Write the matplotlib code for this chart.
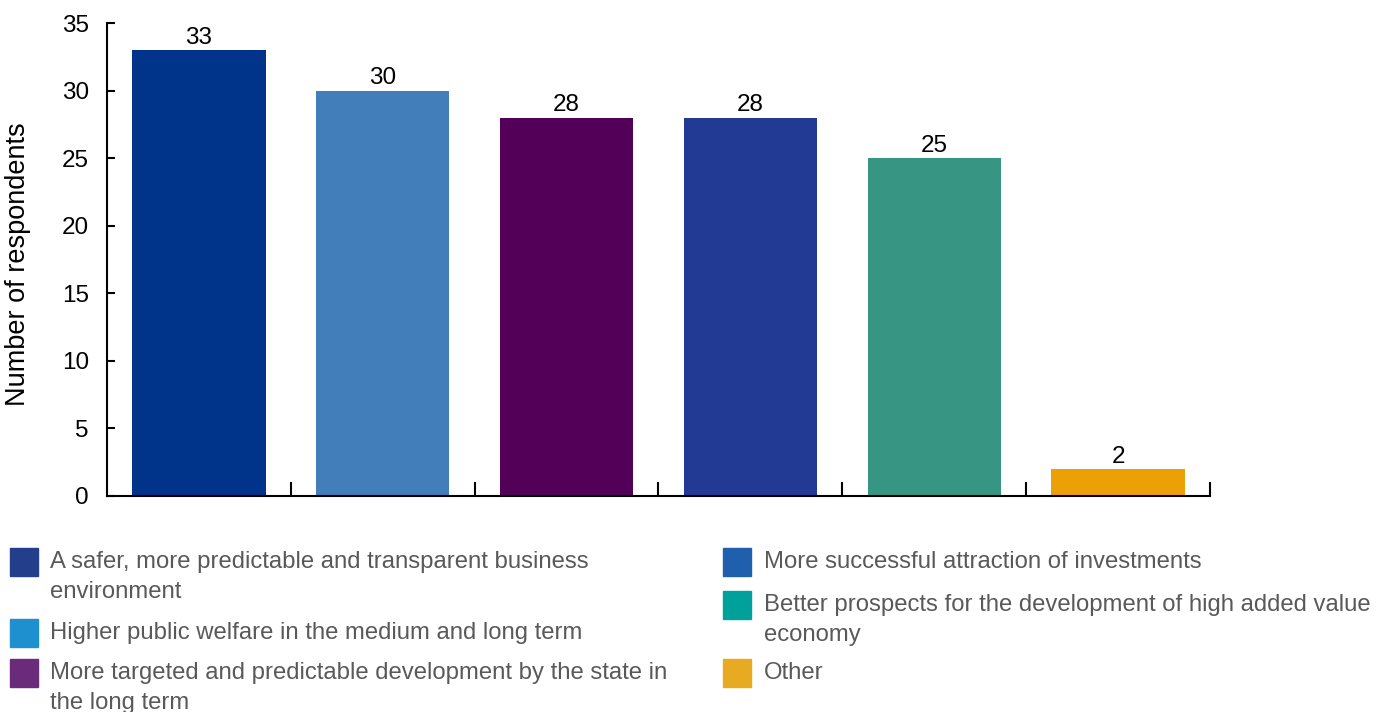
import matplotlib.pyplot as plt
from matplotlib.patches import Rectangle

plt.rcParams['font.family'] = ['Liberation Sans', 'DejaVu Sans']

# survey answers and counts
labels = [
    'A safer, more predictable and transparent business\nenvironment',
    'Higher public welfare in the medium and long term',
    'More targeted and predictable development by the state in\nthe long term',
    'More successful attraction of investments',
    'Better prospects for the development of high added value\neconomy',
    'Other',
]
counts = [33, 30, 28, 28, 25, 2]
bar_colors = ['#00338A', '#427EBA', '#520058', '#233A94', '#379584', '#EBA006']
key_colors = ['#233E8B', '#1E90D0', '#6A2C7A', '#1F5FAE', '#00A19A', '#E8AA20']
yticks = [0, 5, 10, 15, 20, 25, 30, 35]

W, H = 1376, 712
fig = plt.figure(figsize=(W / 100, H / 100), dpi=100)
ax = fig.add_axes([107 / W, 1 - 496 / H, 1103 / W, 473 / H])

x = list(range(len(counts)))
bars = ax.bar(x, counts, width=0.725, color=bar_colors)
for b, v in zip(bars, counts):
    ax.text(b.get_x() + b.get_width() / 2, v + 0.1, str(v),
            ha='center', va='bottom', fontsize=17.5, color='black')

ax.set_xlim(-0.5, len(counts) - 0.5)
ax.set_ylim(0, 35)
ax.set_yticks(yticks)
ax.set_xticks([i + 0.5 for i in x])
ax.set_xticklabels([])
ax.tick_params(axis='x', direction='in', length=10, width=1.5)
ax.tick_params(axis='y', direction='in', length=6, width=1.5, labelsize=17.5, pad=13)
for s in ['top', 'right']:
    ax.spines[s].set_visible(False)
for s in ['left', 'bottom']:
    ax.spines[s].set_linewidth(1.5)
ax.set_ylabel('Number of respondents', fontsize=19.5)
ax.yaxis.set_label_coords(-0.069, 0.49)

# legend laid out in two columns below the axes
def px(xp, yp):
    return xp / W, 1 - yp / H

cols = [(10, 50), (723, 764)]
rows = [548, 619, 659, 548, 591, 659]
for i, (lab, c) in enumerate(zip(labels, key_colors)):
    sx, tx = cols[i // 3]
    sy = rows[i]
    x0, y0 = px(sx, sy + 28)
    fig.patches.append(Rectangle((x0, y0), 28 / W, 28 / H, color=c,
                                 transform=fig.transFigure, figure=fig))
    tx0, ty0 = px(tx, sy + 3)
    fig.text(tx0, ty0, lab, ha='left', va='top', fontsize=17.2,
             color='#595959', linespacing=1.5)

fig.savefig('out.png', dpi=100)
